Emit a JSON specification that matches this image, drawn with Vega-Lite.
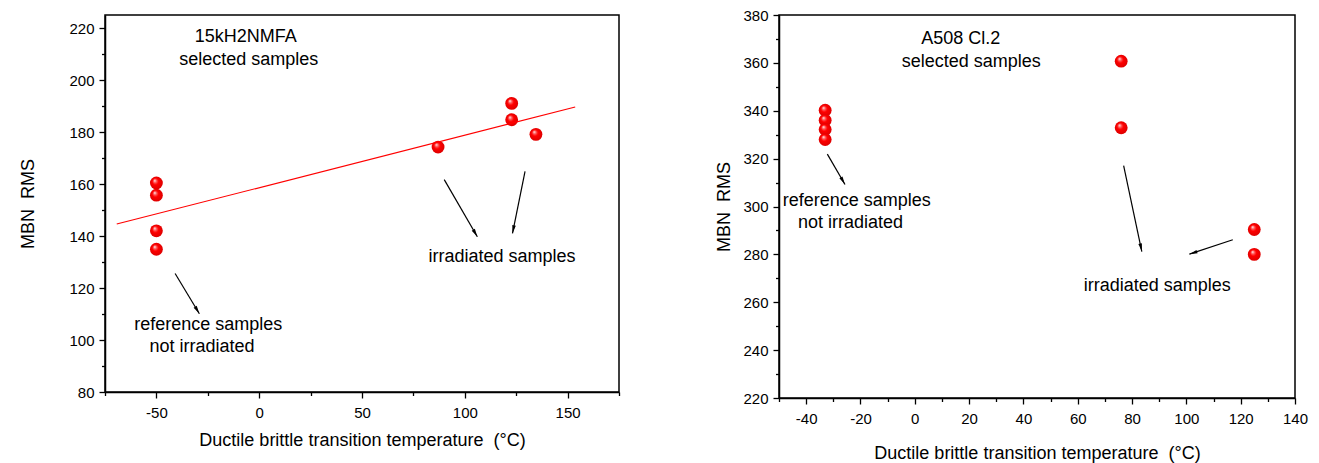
{
  "$schema": "https://vega.github.io/schema/vega-lite/v6.json",
  "padding": {"left": 19, "top": 7, "right": 5, "bottom": 0},
  "spacing": 94,
  "config": {
    "font": "Liberation Sans",
    "view": {"stroke": "black", "strokeWidth": 1.5},
    "axis": {
      "grid": false,
      "domainColor": "black",
      "domainWidth": 1.5,
      "tickColor": "black",
      "tickWidth": 1.3,
      "tickCount": 100,
      "labelColor": "black",
      "labelFontSize": 15,
      "labelFont": "Liberation Sans",
      "labelOverlap": false,
      "titleFont": "Liberation Sans",
      "titleFontSize": 18,
      "titleFontWeight": "normal",
      "titleColor": "black"
    },
    "text": {"font": "Liberation Sans", "fontSize": 18, "color": "black"}
  },
  "datasets": {
    "lp": [
      {"t": -50, "m": 160.4}, {"t": -50, "m": 155.7}, {"t": -50, "m": 142.0}, {"t": -50, "m": 134.9},
      {"t": 87, "m": 174.2}, {"t": 122.8, "m": 191.0}, {"t": 122.8, "m": 184.7}, {"t": 134.6, "m": 179.1}
    ],
    "ll": [{"t": -69.3, "m": 144.6}, {"t": 153.7, "m": 189.6}],
    "la": [
      {"id": "a1", "t": -40.9, "m": 125.6, "te": -29.1, "me": 110.1},
      {"id": "a2", "t": 90.0, "m": 161.7, "te": 106.1, "me": 139.7},
      {"id": "a3", "t": 129.3, "m": 164.9, "te": 123.2, "me": 141.0}
    ],
    "lt": [
      {"t": -6.5, "m": 216.7, "label": "15kH2NMFA"},
      {"t": -5.1, "m": 207.8, "label": "selected samples"},
      {"t": 118.1, "m": 131.8, "label": "irradiated samples"},
      {"t": -24.8, "m": 105.8, "label": "reference samples"},
      {"t": -27.8, "m": 97.3, "label": "not irradiated"}
    ],
    "rp": [
      {"t": -33, "m": 340.2}, {"t": -33, "m": 336.0}, {"t": -33, "m": 332.2}, {"t": -33, "m": 328.0},
      {"t": 76, "m": 360.7}, {"t": 76, "m": 332.9}, {"t": 125, "m": 290.4}, {"t": 125, "m": 280.0}
    ],
    "ra": [
      {"id": "a1", "t": -32.2, "m": 321.9, "te": -25.7, "me": 309.2},
      {"id": "a2", "t": 76.9, "m": 317.1, "te": 83.6, "me": 281.2},
      {"id": "a3", "t": 117.1, "m": 286.1, "te": 101.1, "me": 280.1}
    ],
    "rt": [
      {"t": 16.9, "m": 370.1, "label": "A508 Cl.2"},
      {"t": 20.8, "m": 360.3, "label": "selected samples"},
      {"t": -21.4, "m": 302.3, "label": "reference samples"},
      {"t": -23.7, "m": 293.0, "label": "not irradiated"},
      {"t": 89.3, "m": 266.7, "label": "irradiated samples"}
    ]
  },
  "hconcat": [
    {
      "width": 514,
      "height": 377,
      "layer": [
        {
          "data": {"name": "lp"},
          "mark": {"type": "point", "shape": "circle", "filled": true, "size": 165, "opacity": 1, "strokeWidth": 0,
            "fill": {"gradient": "radial", "x1": 0.36, "y1": 0.3, "r1": 0, "x2": 0.5, "y2": 0.5, "r2": 0.55,
              "stops": [{"offset": 0, "color": "#ffffff"}, {"offset": 0.22, "color": "#ff6060"}, {"offset": 0.45, "color": "#ff0000"}, {"offset": 1, "color": "#d80000"}]}},
          "encoding": {
            "x": {"field": "t", "type": "quantitative", "title": "Ductile brittle transition temperature\u00a0 (°C)",
              "scale": {"domain": [-75, 175], "nice": false, "zero": false},
              "axis": {"values": [-75, -50, -25, 0, 25, 50, 75, 100, 125, 150, 175], "tickCount": 100,
                "labelExpr": "datum.value % 50 === 0 ? '' + datum.value : ''",
                "tickSize": {"condition": {"test": "datum.value % 50 !== 0", "value": 3.5}, "value": 6},
                "labelPadding": 7, "titlePadding": 11, "labelFlush": false}},
            "y": {"field": "m", "type": "quantitative", "title": "MBN\u00a0 RMS",
              "scale": {"domain": [80, 225], "nice": false, "zero": false},
              "axis": {"values": [80, 90, 100, 110, 120, 130, 140, 150, 160, 170, 180, 190, 200, 210, 220], "tickCount": 100,
                "labelExpr": "datum.value % 20 === 0 ? '' + datum.value : ''",
                "tickSize": {"condition": {"test": "datum.value % 20 !== 0", "value": 3.5}, "value": 6},
                "labelPadding": 5, "titlePadding": 31, "labelFlush": false}}
          }
        },
        {
          "data": {"name": "ll"},
          "mark": {"type": "line", "color": "#ff0000", "strokeWidth": 1.2},
          "encoding": {
            "x": {"field": "t", "type": "quantitative", "title": "Ductile brittle transition temperature\u00a0 (°C)"},
            "y": {"field": "m", "type": "quantitative", "title": "MBN\u00a0 RMS"}
          }
        },
        {
          "data": {"name": "la"},
          "mark": {"type": "rule", "color": "black", "strokeWidth": 1.2},
          "encoding": {
            "x": {"field": "t", "type": "quantitative", "title": "Ductile brittle transition temperature\u00a0 (°C)"},
            "y": {"field": "m", "type": "quantitative", "title": "MBN\u00a0 RMS"},
            "x2": {"field": "te"},
            "y2": {"field": "me"}
          }
        },
        {
          "data": {"name": "la"},
          "transform": [{"filter": "datum.id === 'a1'"}],
          "mark": {"type": "point", "shape": "M0,0L-0.6,2.7L0.6,2.7Z", "filled": true, "color": "black", "opacity": 1, "size": 36, "angle": 149},
          "encoding": {
            "x": {"field": "te", "type": "quantitative", "title": "Ductile brittle transition temperature\u00a0 (°C)"},
            "y": {"field": "me", "type": "quantitative", "title": "MBN\u00a0 RMS"}
          }
        },
        {
          "data": {"name": "la"},
          "transform": [{"filter": "datum.id === 'a2'"}],
          "mark": {"type": "point", "shape": "M0,0L-0.6,2.7L0.6,2.7Z", "filled": true, "color": "black", "opacity": 1, "size": 36, "angle": 150},
          "encoding": {
            "x": {"field": "te", "type": "quantitative", "title": "Ductile brittle transition temperature\u00a0 (°C)"},
            "y": {"field": "me", "type": "quantitative", "title": "MBN\u00a0 RMS"}
          }
        },
        {
          "data": {"name": "la"},
          "transform": [{"filter": "datum.id === 'a3'"}],
          "mark": {"type": "point", "shape": "M0,0L-0.6,2.7L0.6,2.7Z", "filled": true, "color": "black", "opacity": 1, "size": 36, "angle": 191},
          "encoding": {
            "x": {"field": "te", "type": "quantitative", "title": "Ductile brittle transition temperature\u00a0 (°C)"},
            "y": {"field": "me", "type": "quantitative", "title": "MBN\u00a0 RMS"}
          }
        },
        {
          "data": {"name": "lt"},
          "mark": {"type": "text", "align": "center", "baseline": "middle"},
          "encoding": {
            "x": {"field": "t", "type": "quantitative", "title": "Ductile brittle transition temperature\u00a0 (°C)"},
            "y": {"field": "m", "type": "quantitative", "title": "MBN\u00a0 RMS"},
            "text": {"field": "label"}
          }
        }
      ]
    },
    {
      "width": 516,
      "height": 383,
      "layer": [
        {
          "data": {"name": "rp"},
          "mark": {"type": "point", "shape": "circle", "filled": true, "size": 165, "opacity": 1, "strokeWidth": 0,
            "fill": {"gradient": "radial", "x1": 0.36, "y1": 0.3, "r1": 0, "x2": 0.5, "y2": 0.5, "r2": 0.55,
              "stops": [{"offset": 0, "color": "#ffffff"}, {"offset": 0.22, "color": "#ff6060"}, {"offset": 0.45, "color": "#ff0000"}, {"offset": 1, "color": "#d80000"}]}},
          "encoding": {
            "x": {"field": "t", "type": "quantitative", "title": "Ductile brittle transition temperature\u00a0 (°C)",
              "scale": {"domain": [-50, 140], "nice": false, "zero": false},
              "axis": {"values": [-50, -40, -30, -20, -10, 0, 10, 20, 30, 40, 50, 60, 70, 80, 90, 100, 110, 120, 130, 140], "tickCount": 100,
                "labelExpr": "datum.value % 20 === 0 ? '' + datum.value : ''",
                "tickSize": {"condition": {"test": "datum.value % 20 !== 0", "value": 3.5}, "value": 6},
                "labelPadding": 7, "titlePadding": 18, "labelFlush": false}},
            "y": {"field": "m", "type": "quantitative", "title": "MBN\u00a0 RMS",
              "scale": {"domain": [220, 380], "nice": false, "zero": false},
              "axis": {"values": [220, 230, 240, 250, 260, 270, 280, 290, 300, 310, 320, 330, 340, 350, 360, 370, 380], "tickCount": 100,
                "labelExpr": "datum.value % 20 === 0 ? '' + datum.value : ''",
                "tickSize": {"condition": {"test": "datum.value % 20 !== 0", "value": 3.5}, "value": 6},
                "labelPadding": 5, "titlePadding": 9, "labelFlush": false}}
          }
        },
        {
          "data": {"name": "ra"},
          "mark": {"type": "rule", "color": "black", "strokeWidth": 1.2},
          "encoding": {
            "x": {"field": "t", "type": "quantitative", "title": "Ductile brittle transition temperature\u00a0 (°C)"},
            "y": {"field": "m", "type": "quantitative", "title": "MBN\u00a0 RMS"},
            "x2": {"field": "te"},
            "y2": {"field": "me"}
          }
        },
        {
          "data": {"name": "ra"},
          "transform": [{"filter": "datum.id === 'a1'"}],
          "mark": {"type": "point", "shape": "M0,0L-0.6,2.7L0.6,2.7Z", "filled": true, "color": "black", "opacity": 1, "size": 36, "angle": 150},
          "encoding": {
            "x": {"field": "te", "type": "quantitative", "title": "Ductile brittle transition temperature\u00a0 (°C)"},
            "y": {"field": "me", "type": "quantitative", "title": "MBN\u00a0 RMS"}
          }
        },
        {
          "data": {"name": "ra"},
          "transform": [{"filter": "datum.id === 'a2'"}],
          "mark": {"type": "point", "shape": "M0,0L-0.6,2.7L0.6,2.7Z", "filled": true, "color": "black", "opacity": 1, "size": 36, "angle": 168},
          "encoding": {
            "x": {"field": "te", "type": "quantitative", "title": "Ductile brittle transition temperature\u00a0 (°C)"},
            "y": {"field": "me", "type": "quantitative", "title": "MBN\u00a0 RMS"}
          }
        },
        {
          "data": {"name": "ra"},
          "transform": [{"filter": "datum.id === 'a3'"}],
          "mark": {"type": "point", "shape": "M0,0L-0.6,2.7L0.6,2.7Z", "filled": true, "color": "black", "opacity": 1, "size": 36, "angle": 252},
          "encoding": {
            "x": {"field": "te", "type": "quantitative", "title": "Ductile brittle transition temperature\u00a0 (°C)"},
            "y": {"field": "me", "type": "quantitative", "title": "MBN\u00a0 RMS"}
          }
        },
        {
          "data": {"name": "rt"},
          "mark": {"type": "text", "align": "center", "baseline": "middle"},
          "encoding": {
            "x": {"field": "t", "type": "quantitative", "title": "Ductile brittle transition temperature\u00a0 (°C)"},
            "y": {"field": "m", "type": "quantitative", "title": "MBN\u00a0 RMS"},
            "text": {"field": "label"}
          }
        }
      ]
    }
  ]
}
